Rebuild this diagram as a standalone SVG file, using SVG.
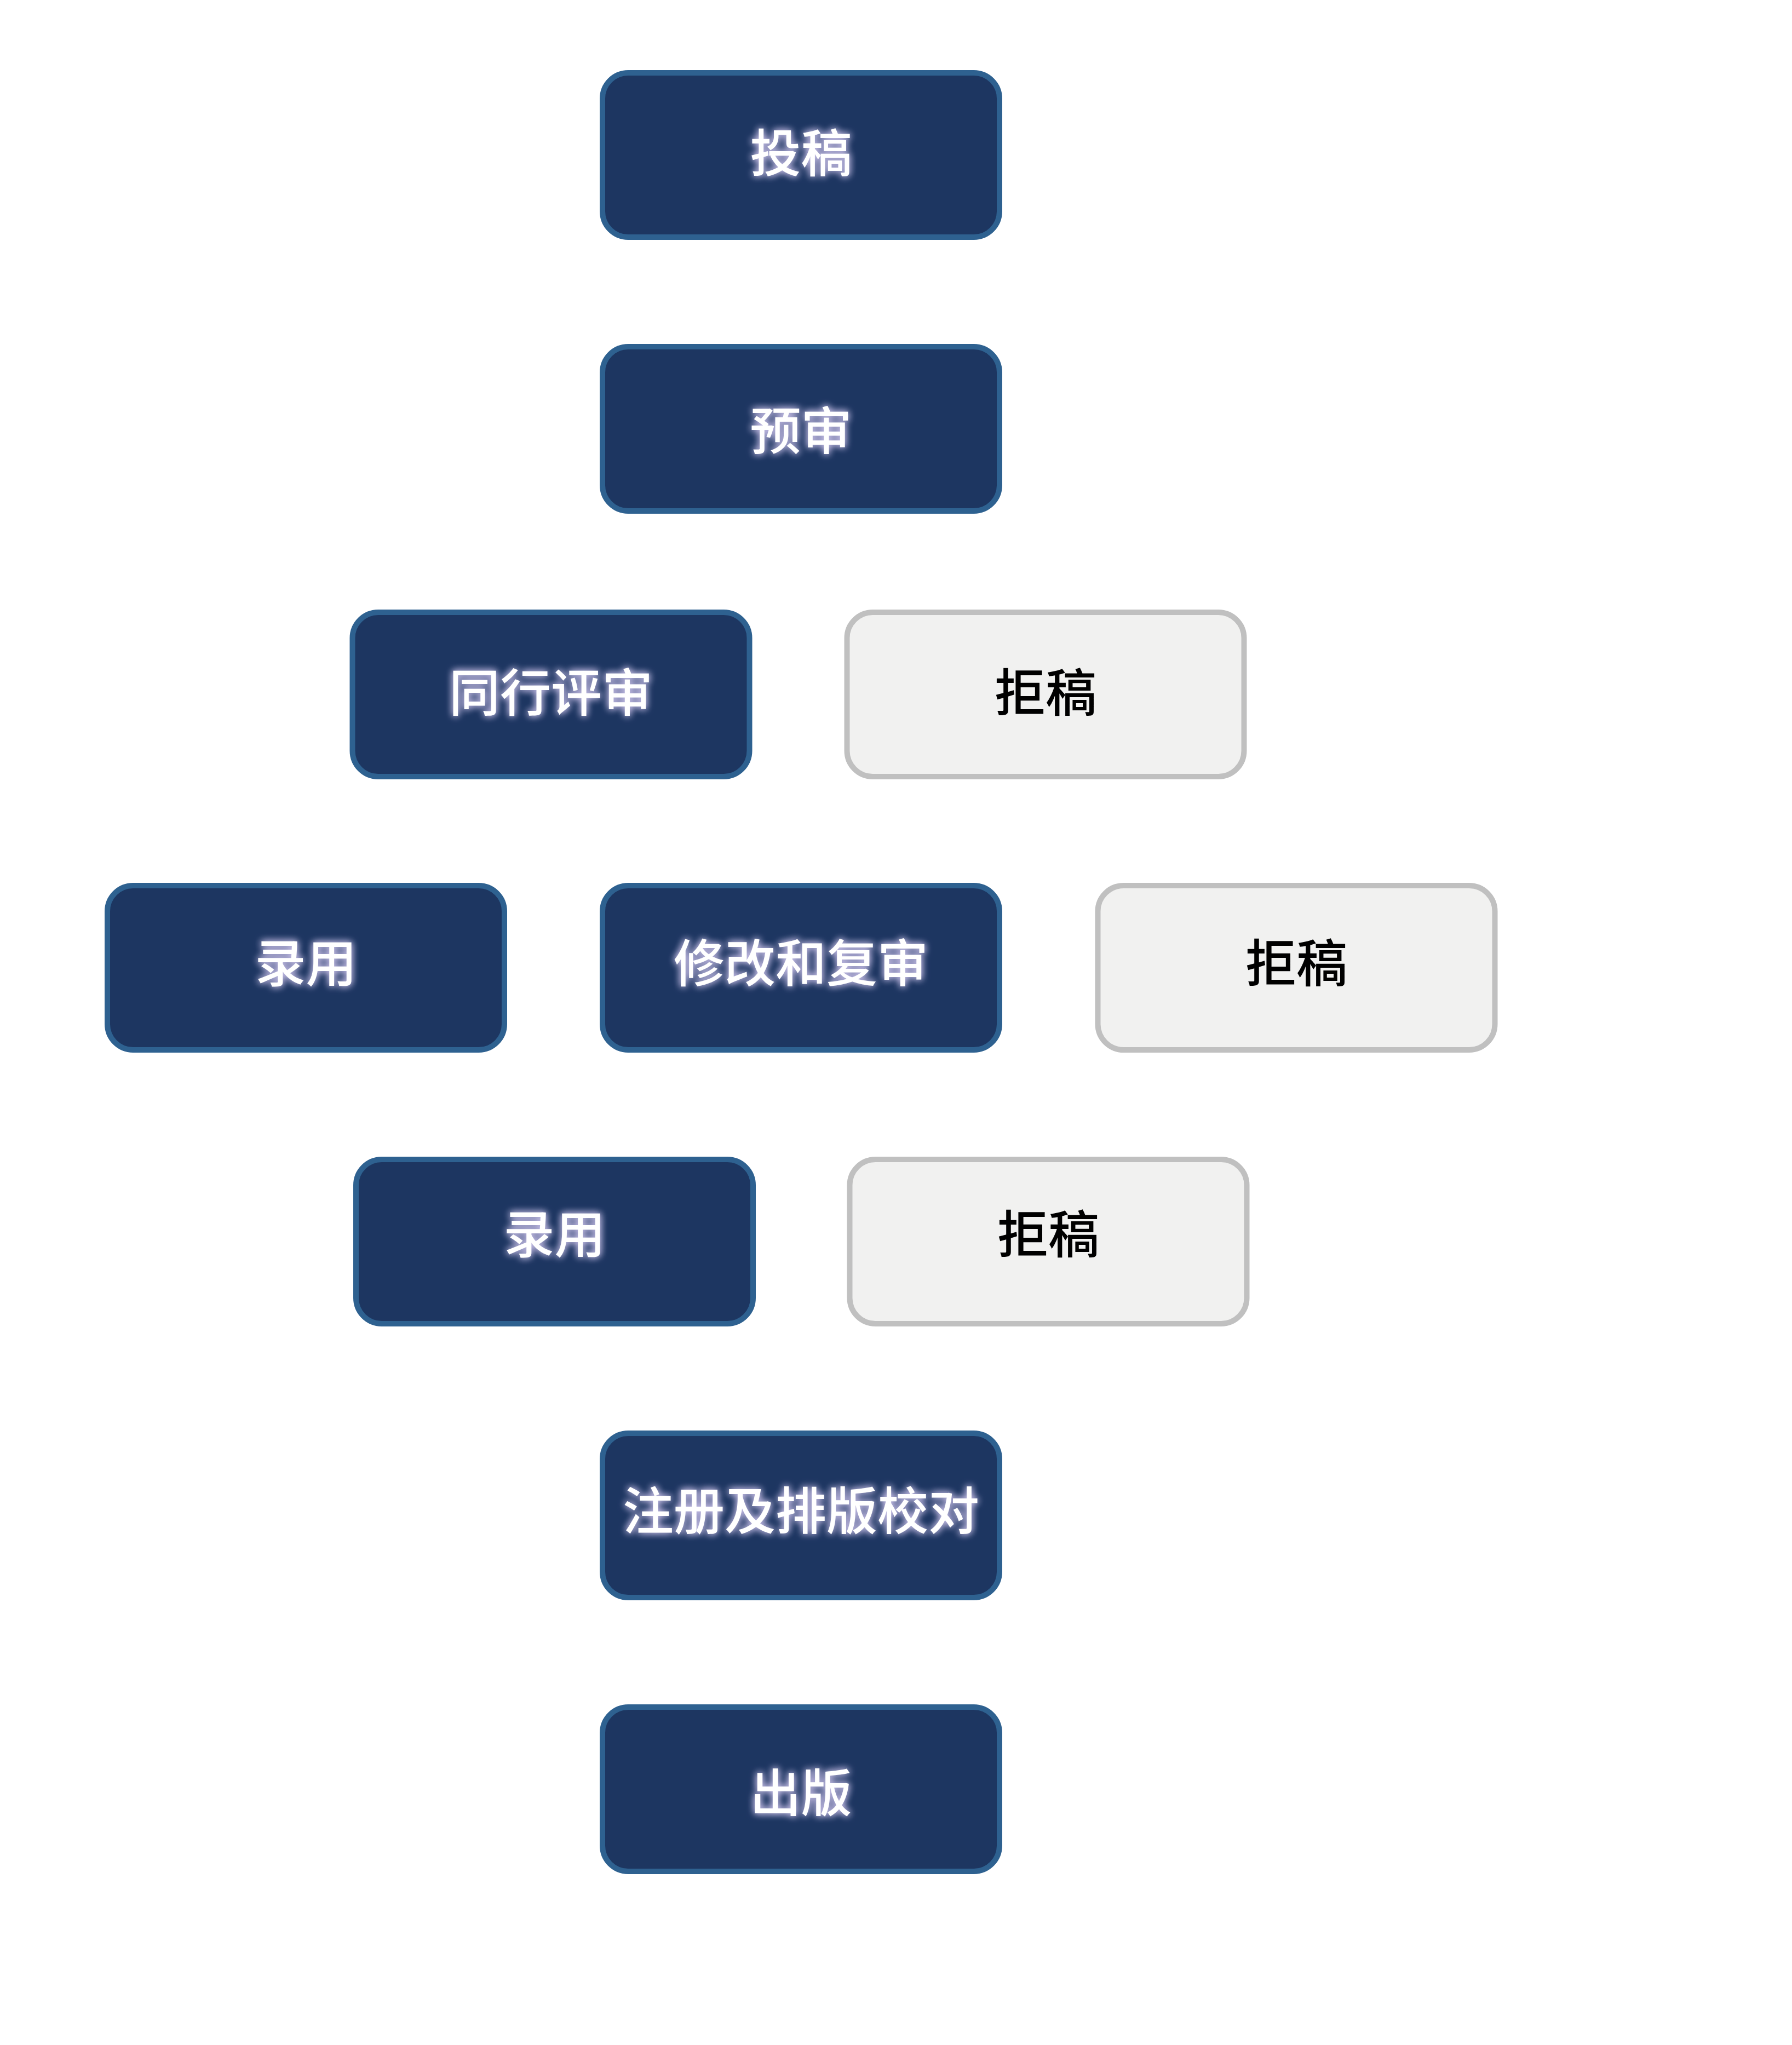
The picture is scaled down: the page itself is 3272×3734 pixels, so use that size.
<svg xmlns="http://www.w3.org/2000/svg" width="3272" height="3734" viewBox="0 0 3272 3734">
  <defs>
    <style>
      .dark rect { fill: #1d3661; stroke: #2e6190; stroke-width: 10; }
      .light rect { fill: #f1f1f0; stroke: #c0c0c0; stroke-width: 10; }
      text { font-family: "Noto Sans CJK SC", "Noto Sans", sans-serif; font-size: 93px; font-weight: 500; text-anchor: middle; }
      .dark text { fill: #ffffff; filter: url(#glow); }
      .light text { fill: #000000; }
    </style>
    <filter id="glow" x="-30%" y="-40%" width="160%" height="180%">
      <feGaussianBlur in="SourceAlpha" stdDeviation="7" result="blur"/>
      <feFlood flood-color="#d9cdf5" flood-opacity="0.8"/>
      <feComposite in2="blur" operator="in" result="glow"/>
      <feMerge>
        <feMergeNode in="glow"/>
        <feMergeNode in="glow"/>
        <feMergeNode in="SourceGraphic"/>
      </feMerge>
    </filter>
  </defs>
  <rect width="3272" height="3734" fill="#ffffff"/>
  <g id="connectors"/>
  <g id="n-submit" class="dark">
    <rect x="1100" y="133" width="725" height="300" rx="47"/>
    <text x="1462.5" y="314">投稿</text>
  </g>
  <g id="n-prereview" class="dark">
    <rect x="1100" y="633" width="725" height="300" rx="47"/>
    <text x="1462.5" y="821">预审</text>
  </g>
  <g id="n-peer" class="dark">
    <rect x="643.5" y="1118" width="725" height="300" rx="47"/>
    <text x="1006" y="1299">同行评审</text>
  </g>
  <g id="n-reject1" class="light">
    <rect x="1546.5" y="1118" width="725" height="300" rx="47"/>
    <text x="1909" y="1299">拒稿</text>
  </g>
  <g id="n-accept1" class="dark">
    <rect x="196" y="1617" width="725" height="300" rx="47"/>
    <text x="558.5" y="1793">录用</text>
  </g>
  <g id="n-revise" class="dark">
    <rect x="1100" y="1617" width="725" height="300" rx="47"/>
    <text x="1462.5" y="1793">修改和复审</text>
  </g>
  <g id="n-reject2" class="light">
    <rect x="2004.5" y="1617" width="725" height="300" rx="47"/>
    <text x="2367" y="1793">拒稿</text>
  </g>
  <g id="n-accept2" class="dark">
    <rect x="650" y="2117" width="725" height="300" rx="47"/>
    <text x="1012.5" y="2288">录用</text>
  </g>
  <g id="n-reject3" class="light">
    <rect x="1551.5" y="2117" width="725" height="300" rx="47"/>
    <text x="1914" y="2288">拒稿</text>
  </g>
  <g id="n-typeset" class="dark">
    <rect x="1100" y="2617" width="725" height="300" rx="47"/>
    <text x="1462.5" y="2793">注册及排版校对</text>
  </g>
  <g id="n-publish" class="dark">
    <rect x="1100" y="3117" width="725" height="300" rx="47"/>
    <text x="1462.5" y="3308">出版</text>
  </g>
</svg>
